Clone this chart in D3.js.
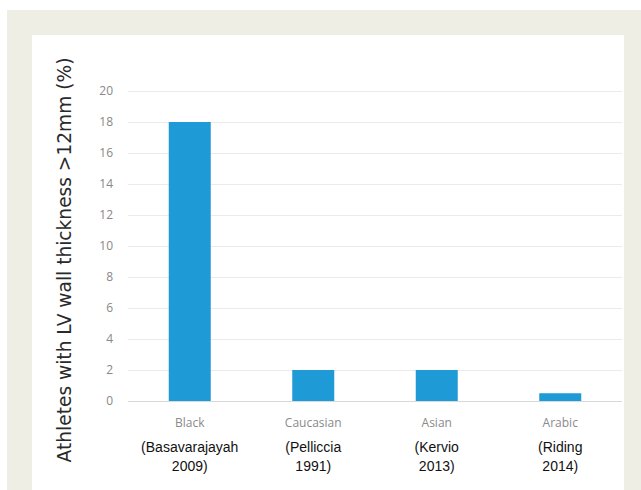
<!DOCTYPE html>
<html lang="en">
<head>
<meta charset="utf-8">
<title>LV wall thickness by ethnicity</title>
<script src="https://cdn.jsdelivr.net/npm/d3@7"></script>
<style>
  body { margin: 0; background: #fff; }
  svg { display: block; }
</style>
</head>
<body>
<div id="vizContainer"></div>
<script>
// ---- data ----
var groups = ["Black", "Caucasian", "Asian", "Arabic"];
var studies = [["(Basavarajayah", "2009)"], ["(Pelliccia", "1991)"], ["(Kervio", "2013)"], ["(Riding", "2014)"]];
var values = [18, 2, 2, 0.5];
var yTicks = [0, 2, 4, 6, 8, 10, 12, 14, 16, 18, 20];

var width = 641, height = 490;
var svg = d3.select("#vizContainer").append("svg")
  .attr("width", width)
  .attr("height", height);

// beige frame and white panel
svg.append("rect").attr("x", 7).attr("y", 10).attr("width", width - 7).attr("height", height - 10).attr("fill", "#efeee4");
svg.append("rect").attr("x", 32).attr("y", 35).attr("width", 592).attr("height", height - 35).attr("fill", "#fff");

var x = d3.scaleBand().domain(groups).range([128, 622]).paddingInner(0.66).paddingOuter(0.33);
var y = d3.scaleLinear().domain([0, 20]).range([401, 91]);

// gridlines
svg.append("g")
  .attr("transform", "translate(128,0)")
  .call(d3.axisLeft(y).tickValues(yTicks).tickSize(-494).tickFormat(""))
  .call(function(g){
    g.select(".domain").remove();
    g.selectAll(".tick line").attr("stroke", function(d){ return d === 0 ? "#d9d9d9" : "#ebebeb"; });
  });

// tick labels
svg.append("g")
  .attr("transform", "translate(116,0)")
  .call(d3.axisLeft(y).tickValues(yTicks).tickSize(0))
  .call(function(g){
    g.select(".domain").remove();
    g.selectAll("text")
      .attr("fill", "#888")
      .attr("font-family", "'Open Sans', sans-serif")
      .attr("font-size", 12);
  });

// bars
svg.selectAll(".bar")
  .data(values)
  .enter()
  .append("rect")
  .attr("class", "bar")
  .attr("x", function(d, i){ return x(groups[i]); })
  .attr("y", function(d){ return y(d); })
  .attr("width", x.bandwidth())
  .attr("height", function(d){ return y(0) - y(d); })
  .attr("fill", "#1e9bd7");

// category labels
svg.selectAll(".cat")
  .data(groups)
  .enter()
  .append("text")
  .attr("x", function(d){ return x(d) + x.bandwidth() / 2; })
  .attr("y", 427)
  .attr("text-anchor", "middle")
  .attr("fill", "#8a8a8a")
  .attr("font-family", "'Open Sans', sans-serif")
  .attr("font-size", 12)
  .text(function(d){ return d; });

// study labels
var st = svg.selectAll(".study")
  .data(studies)
  .enter()
  .append("text")
  .attr("text-anchor", "middle")
  .attr("fill", "#111")
  .attr("font-family", "'Liberation Sans', Arial, sans-serif")
  .attr("font-size", 14);
st.selectAll("tspan")
  .data(function(d, i){ return d.map(function(t){ return {t: t, i: i}; }); })
  .enter()
  .append("tspan")
  .attr("x", function(d){ return x(groups[d.i]) + x.bandwidth() / 2; })
  .attr("y", function(d, j){ return 452 + j * 19; })
  .text(function(d){ return d.t; });

// y axis title
svg.append("text")
  .attr("transform", "translate(71,260) rotate(-90)")
  .attr("text-anchor", "middle")
  .attr("fill", "#2a2a2a")
  .attr("font-family", "'DejaVu Sans', sans-serif")
  .attr("font-size", 18.6)
  .text("Athletes with LV wall thickness >12mm (%)");
</script>
</body>
</html>
